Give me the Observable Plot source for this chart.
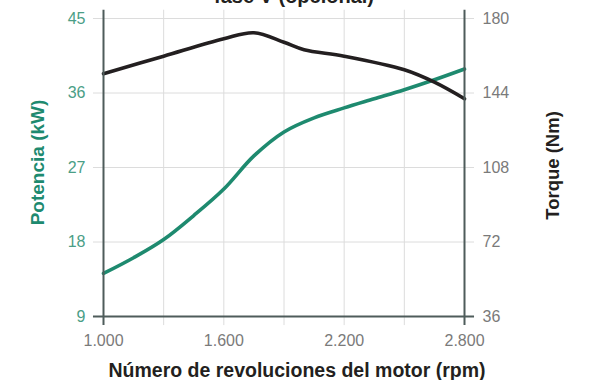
<!DOCTYPE html>
<html><head><meta charset="utf-8">
<script src="https://cdn.jsdelivr.net/npm/d3@7"></script>
<script src="https://cdn.jsdelivr.net/npm/@observablehq/plot@0.6"></script>
<style>body{margin:0;background:#fff;}</style>
</head><body><div id="chart"></div>
<script>
const title = "fase V (opcional)";
const xLabel = "Número de revoluciones del motor (rpm)";
const powerLabel = "Potencia (kW)";
const torqueLabel = "Torque (Nm)";
const xTicks = [1000, 1600, 2200, 2800];
const xGrid = [1000, 1300, 1600, 1900, 2200, 2500, 2800];
const powerTicks = [9, 18, 27, 36, 45];
const torqueTicks = [36, 72, 108, 144, 180];
const powerRpm = [1000, 1150, 1300, 1450, 1600, 1750, 1900, 2050, 2200, 2350, 2500, 2650, 2800];
const power = [14.2, 16.1, 18.3, 21.2, 24.4, 28.4, 31.3, 33.0, 34.2, 35.3, 36.4, 37.6, 38.9];
const torqueRpm = [1000, 1300, 1600, 1750, 1900, 2000, 2200, 2500, 2650, 2800];
const torque = [153.3, 161.8, 170.2, 173.1, 168.5, 164.9, 161.8, 155.2, 149.2, 141.2];

const ratio = 4; // torque axis = 4 x power axis
const fmt = d => String(d).replace(/\B(?=(\d{3})+$)/g, ".");
const green = "#1e8a6f", dark = "#231f20", axisC = "#4e5c5b", gridC = "#dcdcdc";
const font = "Liberation Sans, Arial, sans-serif";

const chart = Plot.plot({
  width: 608, height: 380,
  marginLeft: 103, marginRight: 144, marginTop: 18, marginBottom: 64,
  x: {domain: [1000, 2800]},
  y: {domain: [9, 45]},
  style: {fontFamily: font, background: "#fff", overflow: "visible"},
  marks: [
    Plot.ruleX(xGrid.slice(1, -1), {y1: 7.9, y2: 46, stroke: gridC, strokeWidth: 1}),
    Plot.ruleY(powerTicks.slice(1), {x1: 950, x2: 2850, stroke: gridC, strokeWidth: 1}),
    Plot.line(powerRpm, {x: powerRpm, y: power, curve: "catmull-rom", stroke: green, strokeWidth: 3.6}),
    Plot.line(torqueRpm, {x: torqueRpm, y: torque.map(t => t / ratio), curve: "catmull-rom", stroke: dark, strokeWidth: 3.6}),
    Plot.ruleY([9], {x1: 950, x2: 2850, stroke: axisC, strokeWidth: 2}),
    Plot.ruleX([1000, 2800], {y1: 7.9, y2: 46, stroke: axisC, strokeWidth: 2}),
    Plot.axisX({ticks: xTicks, tickSize: 0, tickPadding: 18, tickFormat: fmt, fill: "#7a7a7a", fontSize: 16, label: null}),
    Plot.axisY({anchor: "left", ticks: powerTicks, tickSize: 0, tickPadding: 18, fill: "#4a9e86", fontSize: 16, label: null}),
    Plot.axisY({anchor: "right", ticks: torqueTicks.map(t => t / ratio), tickFormat: d => d * ratio, tickSize: 0, tickPadding: 18, fill: "#7a7a7a", fontSize: 16, label: null}),
    Plot.text([powerLabel], {frameAnchor: "left", textAnchor: "middle", lineAnchor: "middle", dx: -66, dy: -5, rotate: -90, fill: green, fontWeight: "bold", fontSize: 19}),
    Plot.text([torqueLabel], {frameAnchor: "right", textAnchor: "middle", lineAnchor: "middle", dx: 89, dy: -2, rotate: -90, fill: dark, fontWeight: "bold", fontSize: 18.5}),
    Plot.text([xLabel], {frameAnchor: "bottom", textAnchor: "middle", lineAnchor: "middle", dx: 13, dy: 54, fill: dark, fontWeight: "bold", fontSize: 19.5}),
    Plot.text([title], {frameAnchor: "top", textAnchor: "middle", dx: 10, dy: -16, lineAnchor: "bottom", fill: dark, fontWeight: "bold", fontSize: 20})
  ]
});
document.getElementById("chart").appendChild(chart);
</script></body></html>
